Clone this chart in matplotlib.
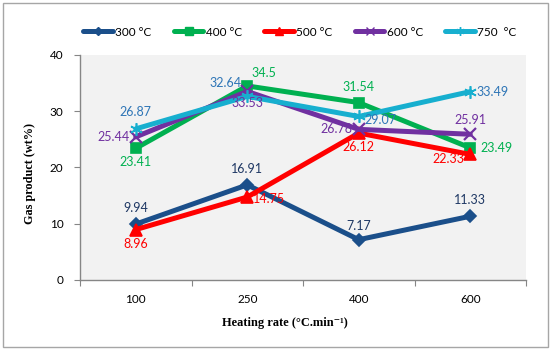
import matplotlib
matplotlib.use("Agg")
import matplotlib.pyplot as plt
from matplotlib.lines import Line2D
from matplotlib.patches import Rectangle

categories = ["100", "250", "400", "600"]
series_names = ["300 °C", "400 °C", "500 °C", "600 °C", "750  °C"]
s300 = [9.94, 16.91, 7.17, 11.33]
s400 = [23.41, 34.5, 31.54, 23.49]
s500 = [8.96, 14.75, 26.12, 22.33]
s600 = [25.44, 33.53, 26.78, 25.91]
s750 = [26.87, 32.64, 29.07, 33.49]
yticks = [0, 10, 20, 30, 40]

line_colors = ["#1B4F8A", "#00B050", "#FF0000", "#7030A0", "#17AFCF"]
label_colors = ["#1F3864", "#00B050", "#FF0000", "#7030A0", "#2E75B6"]
markers = ["D", "s", "^", "x", (6, 2, 0)]
msizes = [6.5, 7.5, 8, 8, 9]
# label offsets in pixels (dx, dy, ha, va)
offsets = [
    [(0, 10, "center", "bottom"), (0, 10, "center", "bottom"), (0, 8, "center", "bottom"), (0, 10, "center", "bottom")],
    [(0, -8, "center", "top"), (4, 7, "left", "bottom"), (0, 10, "center", "bottom"), (10, 0, "left", "center")],
    [(0, -8, "center", "top"), (6, -2, "left", "center"), (0, -8, "center", "top"), (-6, -5, "right", "center")],
    [(-6, 0, "right", "center"), (0, -6, "center", "top"), (-6, 0, "right", "center"), (0, 8, "center", "bottom")],
    [(0, 11, "center", "bottom"), (-6, 7, "right", "bottom"), (6, -4, "left", "center"), (6, 0, "left", "center")],
]

data = [s300, s400, s500, s600, s750]

fig = plt.figure(figsize=(5.5, 3.49), dpi=100)
fig.patch.set_facecolor("white")
ax = fig.add_axes([80 / 550, 1 - 280 / 349, 446 / 550, 225 / 349])
ax.set_facecolor("#F2F2F2")

x = list(range(len(categories)))
for vals, name, lc, tc, mk, ms, offs in zip(data, series_names, line_colors, label_colors, markers, msizes, offsets):
    ax.plot(x, vals, color=lc, lw=3.6, marker=mk, markersize=ms, markeredgewidth=1.6 if mk in ("x",) else 1.2,
            markerfacecolor=lc, markeredgecolor=lc, label=name, solid_capstyle="round", zorder=3)
    for xi, v, (dx, dy, ha, va) in zip(x, vals, offs):
        ax.annotate(f"{v:g}", (xi, v), xytext=(dx, dy), textcoords="offset pixels",
                    ha=ha, va=va, color=tc, fontsize=9, family="Lato", zorder=5)

ax.set_xlim(-0.5, len(categories) - 0.5)
ax.set_ylim(0, 40)
ax.set_yticks(yticks)
ax.set_yticklabels([str(t) for t in yticks], family="Lato", fontsize=8.5)
ax.set_xticks([i - 0.5 for i in range(len(categories) + 1)])
ax.set_xticklabels([])
ax.set_xticks(x, minor=True)
ax.set_xticklabels(categories, minor=True, family="Lato", fontsize=8.5)
ax.tick_params(axis="x", which="major", length=4, color="#868686", direction="out")
ax.tick_params(axis="x", which="minor", length=0, pad=10)
ax.tick_params(axis="y", length=4, color="#868686", pad=8)
for s in ["top", "right"]:
    ax.spines[s].set_visible(False)
for s in ["left", "bottom"]:
    ax.spines[s].set_color("#868686")
    ax.spines[s].set_linewidth(1)

ax.set_ylabel("Gas product (wt%)", family="Liberation Serif", fontweight="bold", fontsize=8.8)
ax.yaxis.set_label_coords(-50 / 446, 0.475)
ax.set_xlabel("Heating rate (°C.min⁻¹)", family=["Liberation Serif", "DejaVu Serif"], fontweight="bold",
              fontsize=8.9)
ax.xaxis.set_label_coords(205 / 446, -43 / 225)
ax.xaxis.label.set_va("center")
ax.yaxis.label.set_va("center")

handles = [Line2D([0], [0], color=lc, lw=3.6, marker=mk, markersize=ms * 0.7, markerfacecolor=lc,
                  markeredgecolor=lc, solid_capstyle="round")
           for lc, mk, ms in zip(line_colors, markers, msizes)]
fig.legend(handles, series_names, loc="center", bbox_to_anchor=(300 / 550, 1 - 32 / 349), ncol=5,
           frameon=False, prop={"family": "Lato", "size": 8.5}, handlelength=2.5, handletextpad=0.2,
           columnspacing=1.9)

fig.add_artist(Rectangle((2.5 / 550, 2.5 / 349), 545 / 550, 343.5 / 349, transform=fig.transFigure,
                         fill=False, edgecolor="#A6A6A6", lw=1))

fig.savefig("out.png", dpi=100)
